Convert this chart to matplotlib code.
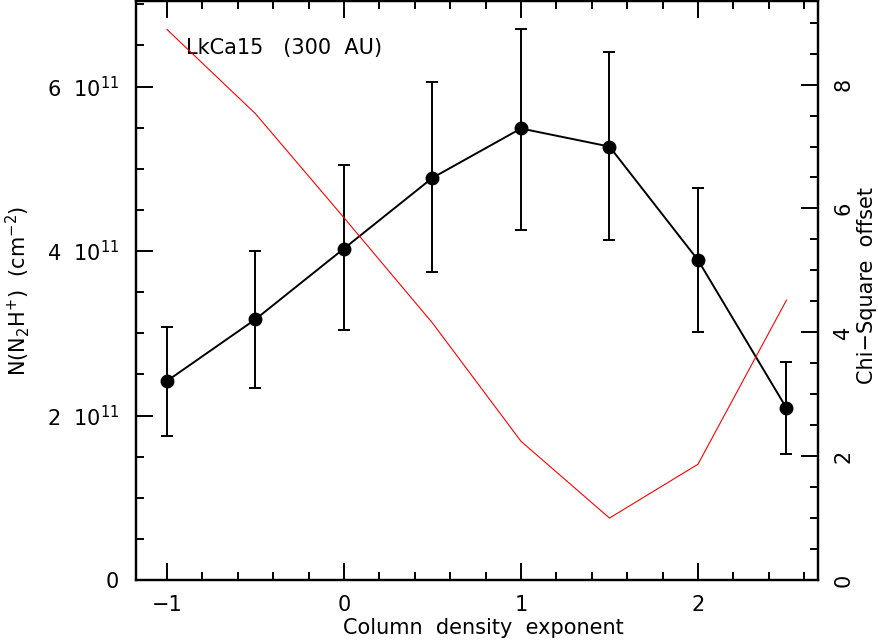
import matplotlib
matplotlib.use('Agg')
import matplotlib.pyplot as plt
from matplotlib.ticker import MultipleLocator, FuncFormatter

# Column density exponent
exponent = [-1.0, -0.5, 0.0, 0.5, 1.0, 1.5, 2.0, 2.5]

# N(N2H+) in units of 1e11 cm^-2, with error bar ends
n_n2h = [2.42, 3.17, 4.03, 4.89, 5.49, 5.27, 3.89, 2.09]
n_upper = [3.08, 4.00, 5.04, 6.05, 6.70, 6.42, 4.77, 2.65]
n_lower = [1.75, 2.33, 3.04, 3.75, 4.26, 4.13, 3.01, 1.53]

# Chi-square offset (right axis)
chi2 = [8.89, 7.53, 5.85, 4.15, 2.24, 1.00, 1.87, 4.52]

FS = 15

plt.rcParams['font.family'] = 'DejaVu Sans'
plt.rcParams['mathtext.fontset'] = 'dejavusans'

fig = plt.figure(figsize=(8.79, 6.42), dpi=100)
ax = fig.add_axes([136/879, 62/642, 682/879, 579/642])

err_lo = [v - l for v, l in zip(n_n2h, n_lower)]
err_hi = [u - v for v, u in zip(n_n2h, n_upper)]
ax.errorbar(exponent, n_n2h, yerr=[err_lo, err_hi], fmt='-o', color='black',
            lw=1.4, ms=9, capsize=4.3, capthick=1.4, elinewidth=1.4, zorder=3)

ax.set_xlim(-1.175, 2.678)
ax.set_ylim(0, 7.04)
ax.xaxis.set_major_locator(MultipleLocator(1))
ax.xaxis.set_minor_locator(MultipleLocator(0.2))
ax.yaxis.set_major_locator(MultipleLocator(2))
ax.yaxis.set_minor_locator(MultipleLocator(0.5))

def sci_fmt(v, pos):
    if abs(v) < 1e-9:
        return '0'
    return r'%d  $10^{11}$' % round(v)

ax.yaxis.set_major_formatter(FuncFormatter(sci_fmt))
ax.xaxis.set_major_formatter(FuncFormatter(lambda v, p: ('%d' % round(v)).replace('-', '\u2212')))
ax.tick_params(axis='x', which='both', direction='in', top=True, bottom=True, labelsize=FS, pad=11)
ax.tick_params(axis='y', which='both', direction='in', left=True, right=False, labelsize=FS, pad=12)
ax.tick_params(which='major', length=12, width=1.4)
ax.tick_params(which='minor', length=6, width=1.4)
for s in ax.spines.values():
    s.set_linewidth(1.6)

ax.set_xlabel('Column  density  exponent', fontsize=FS)
ax.xaxis.set_label_coords(0.51, -(618 - 580) / 579)
ax.set_ylabel(r'N(N$_2$H$^{+}$)  (cm$^{-2}$)', fontsize=FS)
ax.yaxis.set_label_coords(-(136 - 32) / 682, 0.5)

ax.text((186 - 136) / 682, (580 - 48) / 579, 'LkCa15   (300  AU)', fontsize=FS,
        va='center', transform=ax.transAxes)

ax2 = ax.twinx()
ax2.plot(exponent, chi2, color='red', lw=0.8)
ax2.set_ylim(0, 9.35)
ax2.yaxis.set_major_locator(MultipleLocator(2))
ax2.yaxis.set_minor_locator(MultipleLocator(0.5))
ax2.tick_params(axis='y', which='both', direction='in', right=True, labelsize=FS,
                labelrotation=90, pad=11)
ax2.tick_params(which='major', length=12, width=1.4)
ax2.tick_params(which='minor', length=6, width=1.4)
for lab in ax2.get_yticklabels():
    lab.set_va('center')
ax2.set_ylabel('Chi\u2212Square  offset', fontsize=FS)
ax2.yaxis.set_label_coords(1 + (857 - 818) / 682, (580 - 285) / 579)
for s in ax2.spines.values():
    s.set_linewidth(1.6)

fig.savefig('out.png', dpi=100)
